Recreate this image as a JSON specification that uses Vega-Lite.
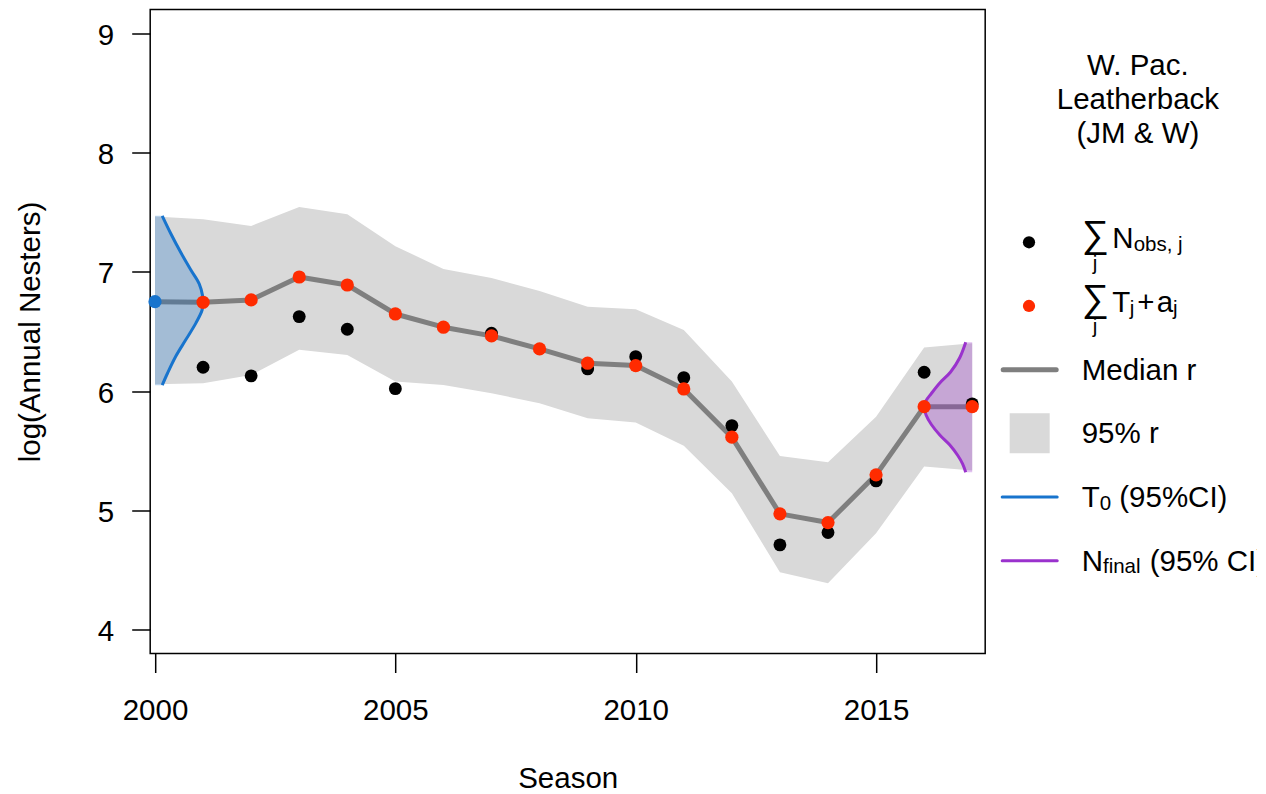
{
  "$schema": "https://vega.github.io/schema/vega-lite/v6.json",
  "padding": {"left": 14.2, "top": 8.5, "right": 0, "bottom": 0},
  "autosize": {"type": "pad"},
  "background": "white",
  "spacing": 0,
  "bounds": "flush",
  "config": {
    "font": "Liberation Sans",
    "view": {"stroke": null},
    "axis": {
      "grid": false, "domain": false,
      "labelFont": "Liberation Sans", "titleFont": "Liberation Sans",
      "labelColor": "black", "titleColor": "black", "tickColor": "black",
      "titleFontWeight": "normal", "labelFontSize": 29.5, "titleFontSize": 29.5,
      "tickWidth": 1.5, "labelFlush": false, "labelOverlap": false, "labelBound": false
    }
  },
  "datasets": {
    "fit": [
      {"year": 2000, "est": 6.75, "lo": 6.058, "hi": 7.465, "obs": null},
      {"year": 2001, "est": 6.745, "lo": 6.066, "hi": 7.441, "obs": 6.200},
      {"year": 2002, "est": 6.765, "lo": 6.136, "hi": 7.385, "obs": 6.128},
      {"year": 2003, "est": 6.957, "lo": 6.346, "hi": 7.544, "obs": 6.625},
      {"year": 2004, "est": 6.890, "lo": 6.304, "hi": 7.483, "obs": 6.519},
      {"year": 2005, "est": 6.647, "lo": 6.080, "hi": 7.215, "obs": 6.021},
      {"year": 2006, "est": 6.536, "lo": 6.052, "hi": 7.025, "obs": null},
      {"year": 2007, "est": 6.463, "lo": 5.982, "hi": 6.948, "obs": 6.485},
      {"year": 2008, "est": 6.354, "lo": 5.899, "hi": 6.840, "obs": null},
      {"year": 2009, "est": 6.234, "lo": 5.773, "hi": 6.708, "obs": 6.186},
      {"year": 2010, "est": 6.214, "lo": 5.736, "hi": 6.686, "obs": 6.289},
      {"year": 2011, "est": 6.018, "lo": 5.541, "hi": 6.513, "obs": 6.113},
      {"year": 2012, "est": 5.614, "lo": 5.144, "hi": 6.080, "obs": 5.711},
      {"year": 2013, "est": 4.971, "lo": 4.482, "hi": 5.457, "obs": 4.711},
      {"year": 2014, "est": 4.898, "lo": 4.390, "hi": 5.404, "obs": 4.814},
      {"year": 2015, "est": 5.298, "lo": 4.809, "hi": 5.786, "obs": 5.247},
      {"year": 2016, "est": 5.870, "lo": 5.367, "hi": 6.365, "obs": 6.158},
      {"year": 2017, "est": 5.870, "lo": 5.334, "hi": 6.402, "obs": 5.893}
    ],
    "t0": [
      {"yr": 2000.15, "v": 6.05},
      {"yr": 2000.26, "v": 6.15},
      {"yr": 2000.43, "v": 6.29},
      {"yr": 2000.64, "v": 6.43},
      {"yr": 2000.85, "v": 6.57},
      {"yr": 2000.98, "v": 6.68},
      {"yr": 2001.0, "v": 6.75},
      {"yr": 2000.99, "v": 6.80},
      {"yr": 2000.92, "v": 6.90},
      {"yr": 2000.74, "v": 7.02},
      {"yr": 2000.54, "v": 7.16},
      {"yr": 2000.33, "v": 7.32},
      {"yr": 2000.15, "v": 7.47}
    ],
    "nfin": [
      {"yr": 2016.865, "v": 5.32},
      {"yr": 2016.80, "v": 5.39},
      {"yr": 2016.70, "v": 5.46},
      {"yr": 2016.53, "v": 5.55},
      {"yr": 2016.33, "v": 5.63},
      {"yr": 2016.15, "v": 5.72},
      {"yr": 2016.04, "v": 5.80},
      {"yr": 2016.0, "v": 5.87},
      {"yr": 2016.04, "v": 5.92},
      {"yr": 2016.15, "v": 5.98},
      {"yr": 2016.33, "v": 6.07},
      {"yr": 2016.55, "v": 6.16},
      {"yr": 2016.74, "v": 6.28},
      {"yr": 2016.865, "v": 6.41}
    ]
  },
  "hconcat": [
    {
      "width": 835,
      "height": 644,
      "view": {"stroke": "black", "strokeWidth": 1.5},
      "layer": [
        {
          "data": {"name": "fit"},
          "mark": {"type": "area", "color": "#D9D9D9", "opacity": 1},
          "encoding": {
            "x": {"field": "year", "type": "quantitative",
                  "scale": {"domain": [1999.9, 2017.27], "nice": false, "zero": false},
                  "axis": {"values": [2000, 2005, 2010, 2015], "format": "d", "title": "Season",
                           "tickSize": 19, "labelPadding": 24.5, "titlePadding": 39}},
            "y": {"field": "lo", "type": "quantitative",
                  "scale": {"domain": [3.8, 9.2], "nice": false, "zero": false},
                  "axis": {"values": [4, 5, 6, 7, 8, 9], "format": "d", "title": "log(Annual Nesters)",
                           "tickSize": 18.5, "labelPadding": 18, "titlePadding": 51.6, "labelOffset": 2}},
            "y2": {"field": "hi"}
          }
        },
        {
          "data": {"name": "fit"},
          "mark": {"type": "line", "color": "#7F7F7F", "strokeWidth": 5, "strokeJoin": "round"},
          "encoding": {
            "x": {"field": "year", "type": "quantitative"},
            "y": {"field": "est", "type": "quantitative"}
          }
        },
        {
          "data": {"name": "t0"},
          "mark": {"type": "area", "orient": "horizontal", "color": "#1874CD", "opacity": 0.28, "interpolate": "catmull-rom"},
          "encoding": {
            "y": {"field": "v", "type": "quantitative"},
            "x": {"field": "yr", "type": "quantitative"},
            "x2": {"datum": 2000}
          }
        },
        {
          "data": {"name": "nfin"},
          "mark": {"type": "area", "orient": "horizontal", "color": "#9A32CD", "opacity": 0.3, "interpolate": "catmull-rom"},
          "encoding": {
            "y": {"field": "v", "type": "quantitative"},
            "x": {"field": "yr", "type": "quantitative"},
            "x2": {"datum": 2017}
          }
        },
        {
          "data": {"name": "t0"},
          "mark": {"type": "line", "color": "#1874CD", "strokeWidth": 3, "interpolate": "catmull-rom"},
          "encoding": {
            "x": {"field": "yr", "type": "quantitative"},
            "y": {"field": "v", "type": "quantitative"},
            "order": {"field": "v", "type": "quantitative"}
          }
        },
        {
          "data": {"name": "nfin"},
          "mark": {"type": "line", "color": "#9A32CD", "strokeWidth": 3, "interpolate": "catmull-rom"},
          "encoding": {
            "x": {"field": "yr", "type": "quantitative"},
            "y": {"field": "v", "type": "quantitative"},
            "order": {"field": "v", "type": "quantitative"}
          }
        },
        {
          "data": {"name": "fit"},
          "transform": [{"filter": "datum.obs != null"}],
          "mark": {"type": "point", "filled": true, "color": "black", "size": 165, "opacity": 1, "strokeWidth": 0},
          "encoding": {
            "x": {"field": "year", "type": "quantitative"},
            "y": {"field": "obs", "type": "quantitative"}
          }
        },
        {
          "data": {"name": "fit"},
          "transform": [{"filter": "datum.year > 2000"}],
          "mark": {"type": "point", "filled": true, "color": "#FF2B00", "size": 175, "opacity": 1, "strokeWidth": 0},
          "encoding": {
            "x": {"field": "year", "type": "quantitative"},
            "y": {"field": "est", "type": "quantitative"}
          }
        },
        {
          "data": {"name": "fit"},
          "transform": [{"filter": "datum.year == 2000"}],
          "mark": {"type": "point", "filled": true, "color": "#1874CD", "size": 175, "opacity": 1, "strokeWidth": 0},
          "encoding": {
            "x": {"field": "year", "type": "quantitative"},
            "y": {"field": "est", "type": "quantitative"}
          }
        }
      ]
    },
    {
      "width": 271.5,
      "height": 644,
      "view": {"stroke": null},
      "layer": [
        {
          "data": {"values": [{"item": "title", "t": "W. Pac.\nLeatherback\n(JM & W)"}]},
          "mark": {"type": "text", "align": "center", "baseline": "alphabetic", "dy": -39.5, "fontSize": 29.5, "lineBreak": "\n", "lineHeight": 34, "color": "black", "clip": true},
          "encoding": {
            "x": {"datum": 152.7, "type": "quantitative", "scale": {"domain": [0, 271.5], "nice": false, "zero": false}, "axis": null},
            "y": {"field": "item", "type": "nominal",
                  "scale": {"type": "point", "domain": ["title", "gap", "obs", "est", "med", "ci", "t0", "nf"], "range": [105.4, 551.2], "padding": 0},
                  "axis": null},
            "text": {"field": "t"}
          }
        },
        {
          "data": {"values": [{"item": "obs"}]},
          "mark": {"type": "point", "filled": true, "color": "black", "size": 150, "opacity": 1, "strokeWidth": 0},
          "encoding": {"x": {"datum": 43.8, "type": "quantitative", "axis": null}, "y": {"field": "item", "type": "nominal", "axis": null}}
        },
        {
          "data": {"values": [{"item": "est"}]},
          "mark": {"type": "point", "filled": true, "color": "#FF2B00", "size": 150, "opacity": 1, "strokeWidth": 0},
          "encoding": {"x": {"datum": 43.8, "type": "quantitative", "axis": null}, "y": {"field": "item", "type": "nominal", "axis": null}}
        },
        {
          "data": {"values": [{"item": "med"}]},
          "mark": {"type": "rule", "color": "#7F7F7F", "strokeWidth": 5, "strokeCap": "round"},
          "encoding": {"x": {"datum": 18, "type": "quantitative", "axis": null}, "x2": {"datum": 71}, "y": {"field": "item", "type": "nominal", "axis": null}}
        },
        {
          "data": {"values": [{"item": "ci"}]},
          "mark": {"type": "point", "shape": "square", "filled": true, "color": "#D9D9D9", "size": 1600, "opacity": 1, "strokeWidth": 0},
          "encoding": {"x": {"datum": 44.5, "type": "quantitative", "axis": null}, "y": {"field": "item", "type": "nominal", "axis": null}}
        },
        {
          "data": {"values": [{"item": "t0"}]},
          "mark": {"type": "rule", "color": "#1874CD", "strokeWidth": 3, "strokeCap": "round"},
          "encoding": {"x": {"datum": 17, "type": "quantitative", "axis": null}, "x2": {"datum": 72}, "y": {"field": "item", "type": "nominal", "axis": null}}
        },
        {
          "data": {"values": [{"item": "nf"}]},
          "mark": {"type": "rule", "color": "#9A32CD", "strokeWidth": 3, "strokeCap": "round"},
          "encoding": {"x": {"datum": 17, "type": "quantitative", "axis": null}, "x2": {"datum": 72}, "y": {"field": "item", "type": "nominal", "axis": null}}
        },
        {
          "data": {"values": [{"item": "obs", "t": "∑"}, {"item": "est", "t": "∑"}]},
          "mark": {"type": "text", "align": "left", "baseline": "alphabetic", "dy": 5.2, "fontSize": 38, "color": "black", "clip": true},
          "encoding": {"x": {"datum": 96.5, "type": "quantitative", "axis": null}, "y": {"field": "item", "type": "nominal", "axis": null}, "text": {"field": "t"}}
        },
        {
          "data": {"values": [{"item": "obs", "t": "j"}, {"item": "est", "t": "j"}]},
          "mark": {"type": "text", "align": "center", "baseline": "alphabetic", "dy": 27.5, "fontSize": 20.5, "color": "black", "clip": true},
          "encoding": {"x": {"datum": 109.8, "type": "quantitative", "axis": null}, "y": {"field": "item", "type": "nominal", "axis": null}, "text": {"field": "t"}}
        },
        {
          "data": {"values": [{"item": "obs", "t": "N"}, {"item": "est", "t": "T"}]},
          "mark": {"type": "text", "align": "left", "baseline": "alphabetic", "dy": 6, "fontSize": 29.5, "color": "black", "clip": true},
          "encoding": {"x": {"datum": 127, "type": "quantitative", "axis": null}, "y": {"field": "item", "type": "nominal", "axis": null}, "text": {"field": "t"}}
        },
        {
          "data": {"values": [{"item": "obs", "t": "obs, j"}]},
          "mark": {"type": "text", "align": "left", "baseline": "alphabetic", "dy": 9, "fontSize": 20.5, "color": "black", "clip": true},
          "encoding": {"x": {"datum": 148.5, "type": "quantitative", "axis": null}, "y": {"field": "item", "type": "nominal", "axis": null}, "text": {"field": "t"}}
        },
        {
          "data": {"values": [{"item": "est", "t": "j"}]},
          "mark": {"type": "text", "align": "left", "baseline": "alphabetic", "dy": 9, "fontSize": 20.5, "color": "black", "clip": true},
          "encoding": {"x": {"datum": 144.5, "type": "quantitative", "axis": null}, "y": {"field": "item", "type": "nominal", "axis": null}, "text": {"field": "t"}}
        },
        {
          "data": {"values": [{"item": "est", "t": "+"}]},
          "mark": {"type": "text", "align": "left", "baseline": "alphabetic", "dy": 6, "fontSize": 29.5, "color": "black", "clip": true},
          "encoding": {"x": {"datum": 152, "type": "quantitative", "axis": null}, "y": {"field": "item", "type": "nominal", "axis": null}, "text": {"field": "t"}}
        },
        {
          "data": {"values": [{"item": "est", "t": "a"}]},
          "mark": {"type": "text", "align": "left", "baseline": "alphabetic", "dy": 6, "fontSize": 29.5, "color": "black", "clip": true},
          "encoding": {"x": {"datum": 171.5, "type": "quantitative", "axis": null}, "y": {"field": "item", "type": "nominal", "axis": null}, "text": {"field": "t"}}
        },
        {
          "data": {"values": [{"item": "est", "t": "j"}]},
          "mark": {"type": "text", "align": "left", "baseline": "alphabetic", "dy": 9, "fontSize": 20.5, "color": "black", "clip": true},
          "encoding": {"x": {"datum": 187.8, "type": "quantitative", "axis": null}, "y": {"field": "item", "type": "nominal", "axis": null}, "text": {"field": "t"}}
        },
        {
          "data": {"values": [{"item": "med", "t": "Median r"}, {"item": "ci", "t": "95% r"}, {"item": "t0", "t": "T"}, {"item": "nf", "t": "N"}]},
          "mark": {"type": "text", "align": "left", "baseline": "alphabetic", "dy": 10, "fontSize": 29.5, "color": "black", "clip": true},
          "encoding": {"x": {"datum": 96.5, "type": "quantitative", "axis": null}, "y": {"field": "item", "type": "nominal", "axis": null}, "text": {"field": "t"}}
        },
        {
          "data": {"values": [{"item": "t0", "t": "0"}]},
          "mark": {"type": "text", "align": "left", "baseline": "alphabetic", "dy": 13.3, "fontSize": 20.5, "color": "black", "clip": true},
          "encoding": {"x": {"datum": 114.5, "type": "quantitative", "axis": null}, "y": {"field": "item", "type": "nominal", "axis": null}, "text": {"field": "t"}}
        },
        {
          "data": {"values": [{"item": "nf", "t": "final"}]},
          "mark": {"type": "text", "align": "left", "baseline": "alphabetic", "dy": 12, "fontSize": 20.5, "color": "black", "clip": true},
          "encoding": {"x": {"datum": 117.8, "type": "quantitative", "axis": null}, "y": {"field": "item", "type": "nominal", "axis": null}, "text": {"field": "t"}}
        },
        {
          "data": {"values": [{"item": "t0", "t": "(95%CI)"}]},
          "mark": {"type": "text", "align": "left", "baseline": "alphabetic", "dy": 10, "fontSize": 29.5, "color": "black", "clip": true},
          "encoding": {"x": {"datum": 134.1, "type": "quantitative", "axis": null}, "y": {"field": "item", "type": "nominal", "axis": null}, "text": {"field": "t"}}
        },
        {
          "data": {"values": [{"item": "nf", "t": "(95% CI)"}]},
          "mark": {"type": "text", "align": "left", "baseline": "alphabetic", "dy": 10, "fontSize": 29.5, "color": "black", "clip": true},
          "encoding": {"x": {"datum": 164.5, "type": "quantitative", "axis": null}, "y": {"field": "item", "type": "nominal", "axis": null}, "text": {"field": "t"}}
        }
      ]
    }
  ]
}
